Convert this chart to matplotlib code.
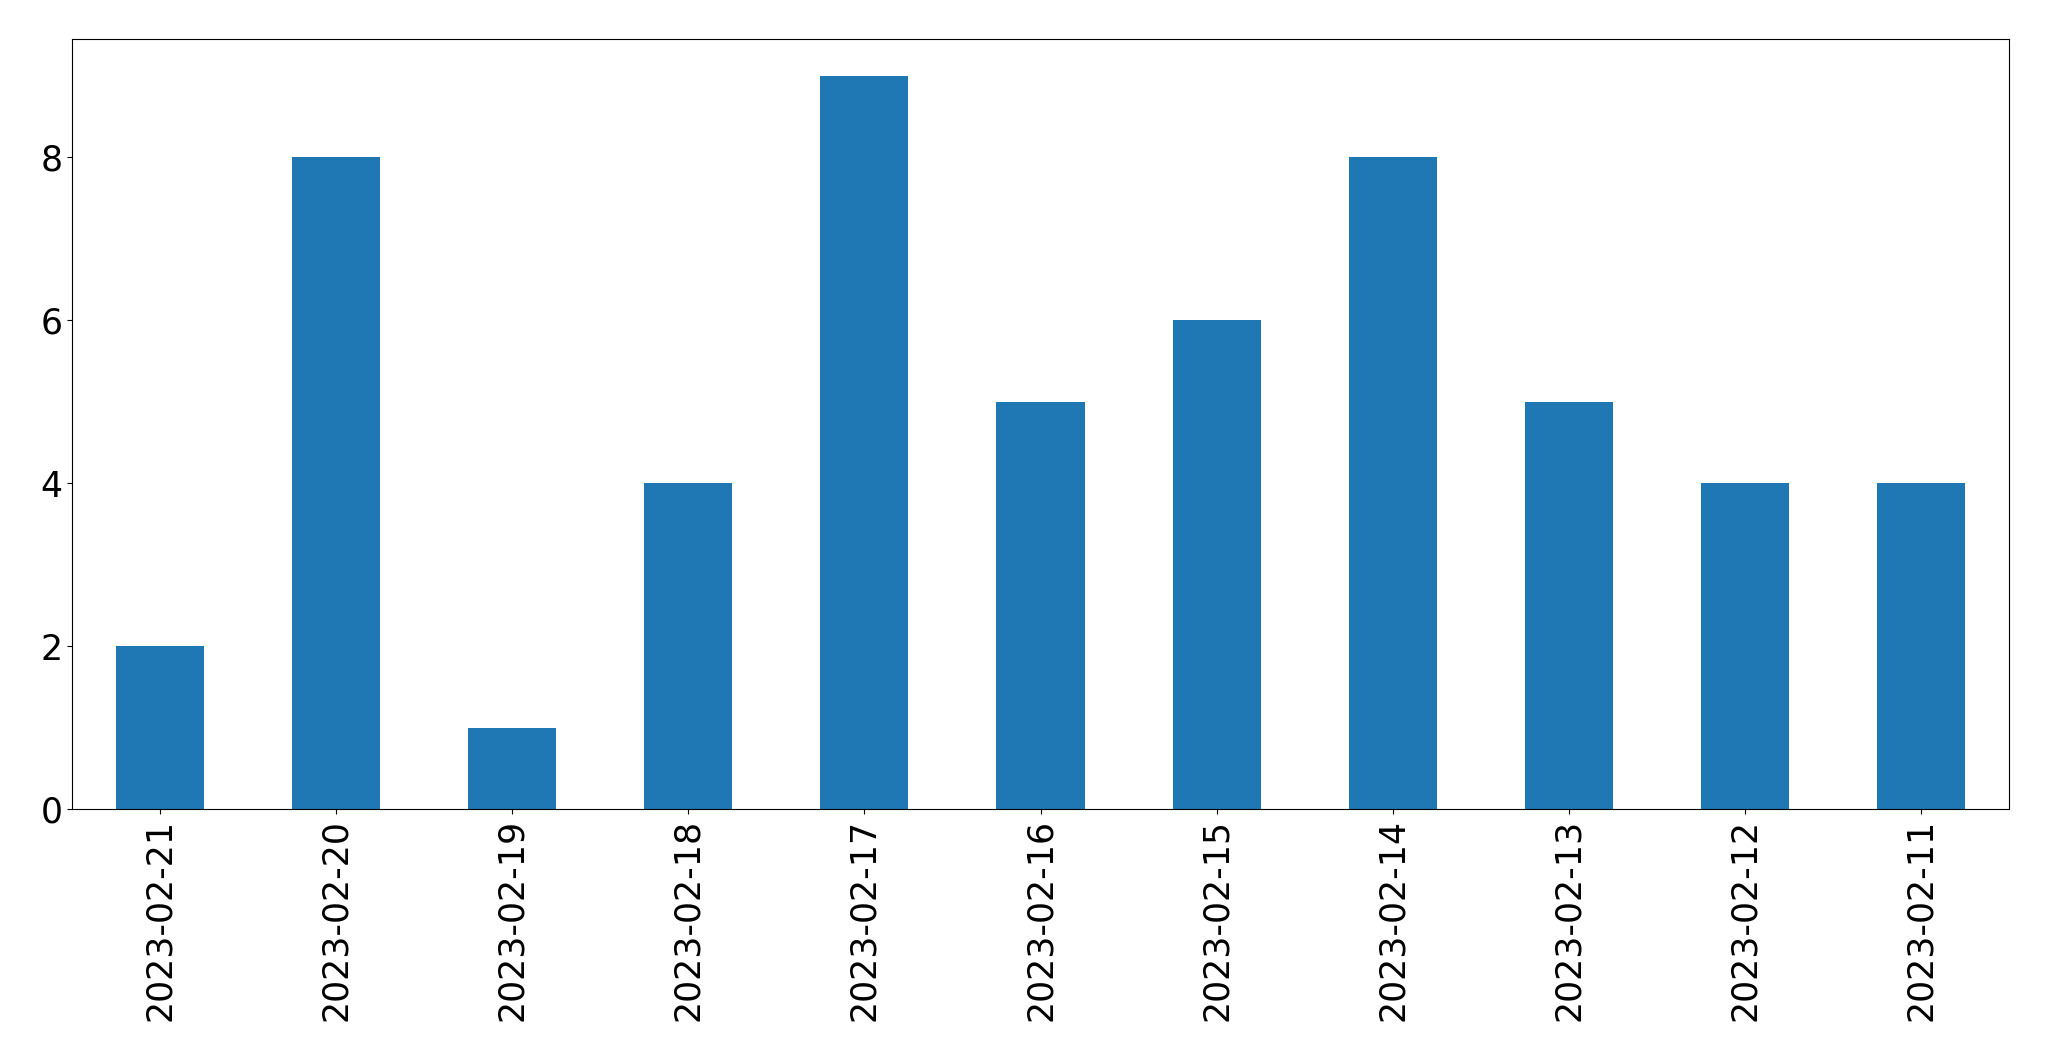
import pandas as pd
import matplotlib.pyplot as plt

dates = ['2023-02-21', '2023-02-20', '2023-02-19', '2023-02-18', '2023-02-17',
         '2023-02-16', '2023-02-15', '2023-02-14', '2023-02-13', '2023-02-12',
         '2023-02-11']
counts = [2, 8, 1, 4, 9, 5, 6, 8, 5, 4, 4]

s = pd.Series(counts, index=dates)

fig, ax = plt.subplots(figsize=(20.49, 10.61), dpi=100)
s.plot(kind='bar', ax=ax, color='#1f77b4', fontsize=25)
ax.set_yticks([0, 2, 4, 6, 8])
fig.subplots_adjust(left=72/2049, right=2009/2049, top=1-39/1061, bottom=1-809/1061)
fig.savefig('out.png', dpi=100)
